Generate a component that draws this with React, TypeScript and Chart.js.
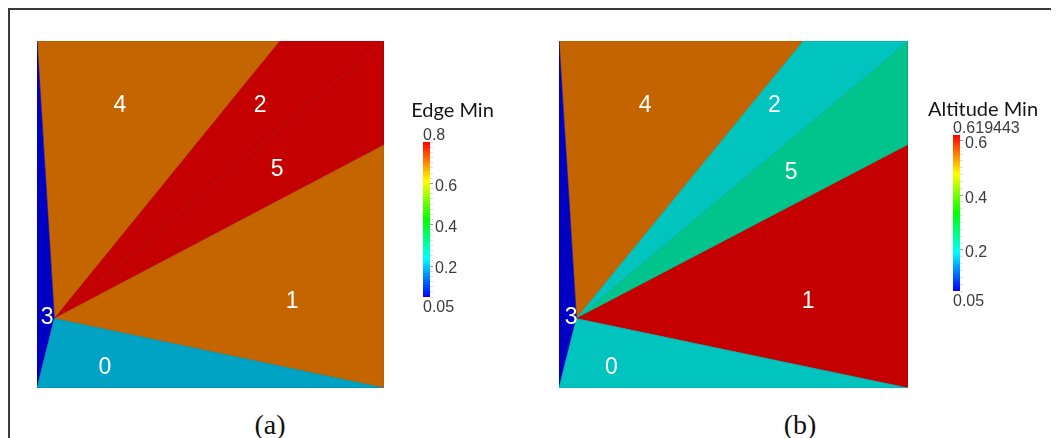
import React, { useEffect, useRef } from "react";
import { Chart, registerables } from "chart.js";

Chart.register(...registerables);

// Mesh nodes (unit square coordinates)
const nodeX = [0, 1, 1, 0, 0.05, 0.7, 1];
const nodeY = [0, 0, 1, 1, 0.2, 1, 0.7];
// Cells (triangles) by node index, cell ids 0..5
const cellIds = ["0", "1", "2", "3", "4", "5"];
const cellNodes = [
  [0, 1, 4],
  [1, 6, 4],
  [5, 2, 4],
  [3, 4, 0],
  [3, 5, 4],
  [2, 6, 4],
];
// Cell values
const edgeMin = [0.206, 0.704, 0.8, 0.05, 0.704, 0.8];
const altitudeMin = [0.198, 0.619443, 0.198, 0.05, 0.547, 0.233];
// Cell label anchor positions
const labelXA = [0.196, 0.735, 0.643, 0.029, 0.239, 0.692];
const labelYA = [0.058, 0.248, 0.813, 0.202, 0.813, 0.628];
const labelXB = [0.15, 0.714, 0.617, 0.035, 0.247, 0.665];
const labelYB = [0.058, 0.248, 0.813, 0.202, 0.813, 0.622];
// Colour bar ranges and tick labels
const edgeRange = [0.05, 0.8];
const altitudeRange = [0.05, 0.619443];
const edgeTicks = [0.2, 0.4, 0.6];
const altitudeTicks = [0.2, 0.4, 0.6];

const SHADE = 0.77;

function hueToRgb(h: number): [number, number, number] {
  const x = 1 - Math.abs(((h / 60) % 2) - 1);
  let r = 0, g = 0, b = 0;
  if (h < 60) { r = 1; g = x; }
  else if (h < 120) { r = x; g = 1; }
  else if (h < 180) { g = 1; b = x; }
  else { g = x; b = 1; }
  return [r, g, b];
}

function cellColor(v: number, range: number[], k = SHADE) {
  const f = Math.max(0, Math.min(1, (v - range[0]) / (range[1] - range[0])));
  const [r, g, b] = hueToRgb(240 * (1 - f));
  return `rgb(${Math.round(r * 255 * k)},${Math.round(g * 255 * k)},${Math.round(b * 255 * k)})`;
}

function MeshChart(props: {
  values: number[];
  range: number[];
  labelX: number[];
  labelY: number[];
  left: number;
  top: number;
  width: number;
  height: number;
}) {
  const ref = useRef<HTMLCanvasElement | null>(null);
  useEffect(() => {
    if (!ref.current) return;
    const datasets = cellNodes.map((nodes, i) => {
      const pts = [...nodes, nodes[0]].map((n) => ({ x: nodeX[n], y: nodeY[n] }));
      return {
        type: "line" as const,
        label: cellIds[i],
        data: pts,
        showLine: true,
        fill: "shape" as any,
        backgroundColor: cellColor(props.values[i], props.range),
        borderColor: cellColor(props.values[i], props.range, SHADE * 0.85),
        borderWidth: 0.6,
        pointRadius: 0,
        tension: 0,
      };
    });
    const labelPlugin = {
      id: "cellLabels",
      afterDatasetsDraw(chart: any) {
        const ctx = chart.ctx;
        const xs = chart.scales.x;
        const ys = chart.scales.y;
        ctx.save();
        ctx.fillStyle = "#ffffff";
        ctx.font = '23px "Liberation Sans", Arial, sans-serif';
        ctx.textAlign = "center";
        ctx.textBaseline = "middle";
        cellIds.forEach((id, i) => {
          ctx.fillText(id, xs.getPixelForValue(props.labelX[i]), ys.getPixelForValue(props.labelY[i]));
        });
        ctx.restore();
      },
    };
    const chart = new Chart(ref.current, {
      type: "scatter",
      data: { datasets: datasets as any },
      options: {
        animation: false,
        responsive: false,
        maintainAspectRatio: false,
        events: [],
        layout: { padding: 0 },
        plugins: { legend: { display: false }, tooltip: { enabled: false } },
        scales: {
          x: { type: "linear", min: 0, max: 1, display: false },
          y: { type: "linear", min: 0, max: 1, display: false },
        },
      },
      plugins: [labelPlugin],
    });
    return () => chart.destroy();
  }, []);
  return (
    <canvas
      ref={ref}
      width={props.width}
      height={props.height}
      style={{ position: "absolute", left: props.left, top: props.top, width: props.width, height: props.height }}
    />
  );
}

function ColorBar(props: {
  title: string;
  range: number[];
  ticks: number[];
  topLabel: string;
  bottomLabel: string;
  left: number;
  top: number;
  width: number;
  height: number;
  padLeft: number;
  padTop: number;
  padBottom: number;
  axisWidth: number;
  titleX: number;
  titleY: number;
}) {
  const ref = useRef<HTMLCanvasElement | null>(null);
  useEffect(() => {
    if (!ref.current) return;
    const minor: number[] = [];
    for (let v = props.range[0]; v <= props.range[1] + 1e-9; v += 0.025) minor.push(Math.round(v * 1000) / 1000);
    const isMajor = (v: number) => props.ticks.some((t) => Math.abs(t - v) < 1e-6);
    const textPlugin = {
      id: "barText",
      afterDraw(chart: any) {
        const ctx = chart.ctx;
        const ca = chart.chartArea;
        ctx.save();
        ctx.fillStyle = "#151515";
        ctx.font = '20px Lato, "Open Sans", sans-serif';
        ctx.textAlign = "center";
        ctx.textBaseline = "middle";
        ctx.fillText(props.title, props.titleX, props.titleY);
        ctx.fillStyle = "#3c3c3c";
        ctx.font = '16px "Liberation Sans", Arial, sans-serif';
        ctx.textAlign = "left";
        ctx.fillText(props.topLabel, ca.left, ca.top - 6);
        ctx.fillText(props.bottomLabel, ca.left, ca.bottom + 11);
        ctx.restore();
      },
    };
    const chart = new Chart(ref.current, {
      type: "bar",
      data: {
        labels: [""],
        datasets: [
          {
            data: [[props.range[0], props.range[1]]] as any,
            backgroundColor: (c: any) => {
              const ca = c.chart.chartArea;
              if (!ca) return "#ff0000";
              const g = c.chart.ctx.createLinearGradient(0, ca.bottom, 0, ca.top);
              g.addColorStop(0, "#0000ff");
              g.addColorStop(0.25, "#00ffff");
              g.addColorStop(0.5, "#00ff00");
              g.addColorStop(0.75, "#ffff00");
              g.addColorStop(1, "#ff0000");
              return g;
            },
            borderWidth: 0,
            barPercentage: 1,
            categoryPercentage: 1,
          },
        ],
      },
      options: {
        animation: false,
        responsive: false,
        maintainAspectRatio: false,
        events: [],
        layout: { padding: { left: props.padLeft, top: props.padTop, bottom: props.padBottom, right: 0 } },
        plugins: { legend: { display: false }, tooltip: { enabled: false } },
        scales: {
          x: { display: false },
          y: {
            position: "right",
            min: props.range[0],
            max: props.range[1],
            afterBuildTicks: (s: any) => {
              s.ticks = minor.map((v) => ({ value: v }));
            },
            afterFit: (s: any) => {
              s.width = props.axisWidth;
            },
            border: { display: false },
            grid: {
              drawOnChartArea: false,
              drawTicks: true,
              tickLength: 3,
              color: (c: any) => (c.tick && isMajor(c.tick.value) ? "#999999" : "#dddddd"),
            },
            ticks: {
              autoSkip: false,
              padding: 2,
              labelOffset: 3,
              color: "#3c3c3c",
              font: { family: '"Liberation Sans", Arial, sans-serif', size: 16 },
              callback: (v: any) => (isMajor(Number(v)) ? String(Number(v)) : ""),
            },
          },
        },
      },
      plugins: [textPlugin],
    });
    return () => chart.destroy();
  }, []);
  return (
    <canvas
      ref={ref}
      width={props.width}
      height={props.height}
      style={{ position: "absolute", left: props.left, top: props.top, width: props.width, height: props.height }}
    />
  );
}

const captionStyle: React.CSSProperties = {
  position: "absolute",
  top: 415,
  transform: "translate(-50%, -50%)",
  fontFamily: '"Liberation Serif", "DejaVu Serif", serif',
  fontSize: 28,
  color: "#111",
  lineHeight: 1,
  whiteSpace: "nowrap",
};

export default function App() {
  return (
    <div
      style={{
        position: "relative",
        width: 1051,
        height: 430,
        boxSizing: "border-box",
        borderTop: "2px solid #3a3a3a",
        borderLeft: "2px solid #3a3a3a",
        overflow: "hidden",
        background: "#fff",
      }}
    >
      <MeshChart values={edgeMin} range={edgeRange} labelX={labelXA} labelY={labelYA} left={27} top={31} width={347} height={347} />
      <ColorBar
        title="Edge Min"
        range={edgeRange}
        ticks={edgeTicks}
        topLabel="0.8"
        bottomLabel="0.05"
        left={395}
        top={85}
        width={110}
        height={230}
        padLeft={18}
        padTop={47}
        padBottom={28}
        axisWidth={85}
        titleX={47.5}
        titleY={16}
      />
      <MeshChart values={altitudeMin} range={altitudeRange} labelX={labelXB} labelY={labelYB} left={549} top={31} width={349} height={347} />
      <ColorBar
        title="Altitude Min"
        range={altitudeRange}
        ticks={altitudeTicks}
        topLabel="0.619443"
        bottomLabel="0.05"
        left={910}
        top={80}
        width={135}
        height={230}
        padLeft={33}
        padTop={45}
        padBottom={29}
        axisWidth={95}
        titleX={63}
        titleY={20}
      />
      <div style={{ ...captionStyle, left: 260 }}>(a)</div>
      <div style={{ ...captionStyle, left: 790 }}>(b)</div>
    </div>
  );
}
